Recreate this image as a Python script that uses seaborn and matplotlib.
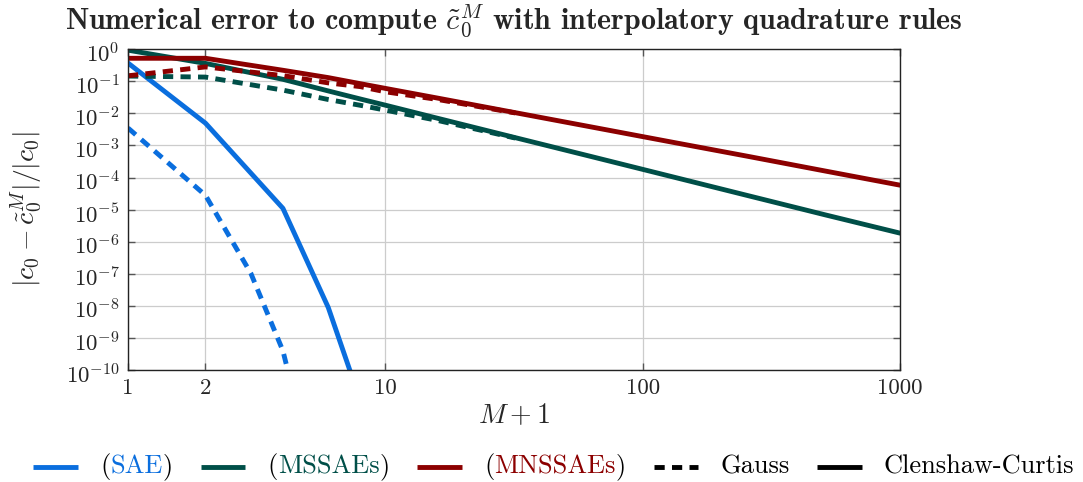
import numpy as np
import pandas as pd
import matplotlib
matplotlib.use("Agg")
import matplotlib.pyplot as plt
import matplotlib.transforms as mtransforms
from matplotlib.lines import Line2D
from matplotlib.offsetbox import HPacker, TextArea, DrawingArea, AnchoredOffsetbox
import seaborn as sns

# ---- data ----
m_sae_cc = [1, 2, 4, 6, 8]
sae_cc = [0.37, 4.95e-3, 1.1e-5, 9e-9, 1.1e-11]
m_sae_g = [1, 2, 3, 4, 5]
sae_g = [3.5e-3, 2.8e-5, 1.05e-7, 4e-10, 3e-13]

m_cc = [1, 2, 4, 6, 8, 10, 16, 32, 64, 128, 256, 512, 1000]
mssae_cc = [0.93, 0.36, 0.115, 0.05, 0.028, 0.018, 7e-3, 1.75e-3, 4.4e-4, 1.1e-4, 2.75e-5, 6.9e-6, 1.86e-6]
mnssae_cc = [0.52, 0.52, 0.22, 0.13, 0.084, 0.06, 0.0298, 0.0105, 3.7e-3, 1.3e-3, 4.6e-4, 1.6e-4, 5.8e-5]

m_g = [1, 2, 4, 6, 8, 10, 16, 32]
mssae_g = [0.145, 0.135, 0.053, 0.027, 0.0178, 0.0126, 0.006, 0.0017]
mnssae_g = [0.148, 0.28, 0.15, 0.089, 0.068, 0.047, 0.027, 0.0103]

xticks = [1, 2, 10, 100, 1000]
xticklabels = ["1", "2", "10", "100", "1000"]
yticks = [10.0 ** k for k in range(-10, 1)]

method_names = ["SAE", "MSSAEs", "MNSSAEs"]
colors = ["#0a6ede", "#004f48", "#8c0000"]
rule_names = ["Gauss", "Clenshaw-Curtis"]

sns.set_style("ticks")
plt.rcParams.update({
    "font.family": "serif",
    "font.serif": ["cmr10"],
    "mathtext.fontset": "cm",
    "axes.unicode_minus": False,
    "axes.formatter.use_mathtext": True,
})

fig, ax = plt.subplots(figsize=(10.83, 4.82), dpi=100)
fig.subplots_adjust(left=0.1182, right=0.831, top=0.898, bottom=0.232)

LW = 3.5
DASH = (0, (2.1, 1.5))

series = [
    (m_sae_cc, sae_cc, colors[0], "-"),
    (m_sae_g, sae_g, colors[0], DASH),
    (m_cc, mssae_cc, colors[1], "-"),
    (m_g, mssae_g, colors[1], DASH),
    (m_g, mnssae_g, colors[2], DASH),
    (m_cc, mnssae_cc, colors[2], "-"),
]
for xs, ys, c, ls in series:
    df = pd.DataFrame({"x": xs, "y": ys})
    sns.lineplot(data=df, x="x", y="y", ax=ax, color=c, linewidth=LW,
                 linestyle=ls, estimator=None, sort=False, legend=False)

ax.set_xscale("log")
ax.set_yscale("log")
ax.set_xlim(1, 1000)
ax.set_ylim(1e-10, 1)
ax.set_xticks(xticks)
ax.set_xticklabels(xticklabels)
ax.set_yticks(yticks)
ax.xaxis.set_minor_locator(matplotlib.ticker.NullLocator())
ax.yaxis.set_minor_locator(matplotlib.ticker.NullLocator())

ax.grid(True, which="major", color="#cccccc", linewidth=0.9)
ax.set_axisbelow(True)
ax.tick_params(axis="both", which="major", direction="in", length=5, width=1,
               color="#555555", top=True, right=True, labelsize=16.5, pad=6)
for s in ax.spines.values():
    s.set_color("#222222")
    s.set_linewidth(1.0)

# y tick labels sit slightly below their ticks, as in the reference
shift = mtransforms.ScaledTranslation(0, -2.0 / 72, fig.dpi_scale_trans)
for lab in ax.get_yticklabels():
    lab.set_transform(lab.get_transform() + shift)

ax.set_xlabel(r"$M+1$", fontsize=20, labelpad=3.5)
ax.set_ylabel(r"$|c_0 - \tilde{c}_0^M|/|c_0|$", fontsize=20, labelpad=16)
ax.set_title(r"Numerical error to compute $\tilde{c}_0^M$ with interpolatory quadrature rules",
             fontsize=21.5, family="cmb10", pad=14)

# ---- legend: line handle, black parentheses, coloured name ----
FS = 19
HW, HH = 32.0, 14.0


def handle(color, ls):
    da = DrawingArea(HW, HH, 0, 0)
    da.add_artist(Line2D([0, HW], [HH / 2, HH / 2], color=color, lw=LW, linestyle=ls,
                         solid_capstyle="butt", dash_capstyle="butt"))
    return da


def label(parts):
    boxes = [TextArea(t, textprops=dict(color=c, fontsize=FS)) for t, c in parts]
    return HPacker(children=boxes, align="baseline", pad=0, sep=0)


entries = []
for name, c in zip(method_names, colors):
    entries.append(HPacker(children=[handle(c, "-"), label([("(", "black"), (name, c), (")", "black")])],
                           align="center", pad=0, sep=16))
entries.append(HPacker(children=[handle("black", DASH), label([(rule_names[0], "black")])],
                       align="center", pad=0, sep=16))
entries.append(HPacker(children=[handle("black", "-"), label([(rule_names[1], "black")])],
                       align="center", pad=0, sep=16))
row = HPacker(children=entries, align="center", pad=0, sep=20)
anch = AnchoredOffsetbox(loc="lower center", child=row, pad=0, borderpad=0, frameon=False,
                         bbox_to_anchor=(0.5115, 0.004), bbox_transform=fig.transFigure)
fig.add_artist(anch)

fig.savefig("out.png", dpi=100)
